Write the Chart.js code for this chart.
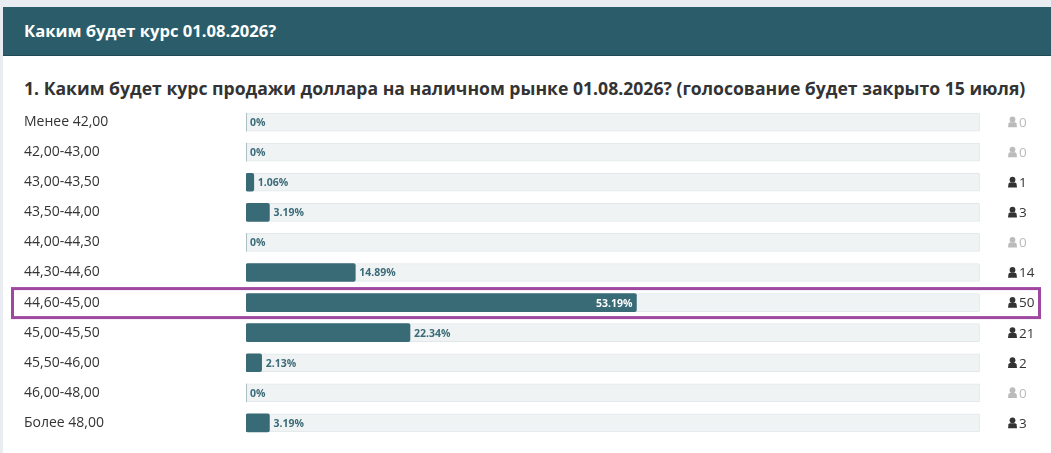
<!DOCTYPE html>
<html lang="ru">
<head>
<meta charset="utf-8">
<script src="https://cdn.jsdelivr.net/npm/chart.js@4"></script>
<style>
  html, body { margin: 0; padding: 0; }
  body { width: 1051px; height: 453px; background: #e9edf1; overflow: hidden; position: relative; font-family: "Open Sans", sans-serif; }
  .panel { position: absolute; left: 3px; top: 7px; right: 0; bottom: 0; background: #fff; }
  .head { position: absolute; left: 3px; top: 7px; right: 0; height: 48px; background: #2a5d69; border-bottom: 1px solid #1f4a54;
          color: #fff; font-weight: 700; font-size: 16.6px; line-height: 48px; padding-left: 21px; }
  .question { position: absolute; left: 24px; top: 76px; font-weight: 700; font-size: 17.6px; color: #333; white-space: nowrap; }
  .box { position: absolute; left: 0; top: 107px; width: 1051px; height: 331px; }
</style>
</head>
<body>
<div class="panel"></div>
<div class="head">Каким будет курс 01.08.2026?</div>
<div class="question">1. Каким будет курс продажи доллара на наличном рынке 01.08.2026? (голосование будет закрыто 15 июля)</div>
<div class="box"><canvas id="pollChart"></canvas></div>
<script>
var options = ['Менее 42,00', '42,00-43,00', '43,00-43,50', '43,50-44,00', '44,00-44,30', '44,30-44,60',
               '44,60-45,00', '45,00-45,50', '45,50-46,00', '46,00-48,00', 'Более 48,00'];
var percents = [0, 0, 1.06, 3.19, 0, 14.89, 53.19, 22.34, 2.13, 0, 3.19];
var votes = [0, 0, 1, 3, 0, 14, 50, 21, 2, 0, 3];
var track = options.map(function () { return 100; });
var highlightIndex = votes.indexOf(Math.max.apply(null, votes));

function drawPerson(ctx, x, y, color) {
    ctx.save();
    ctx.fillStyle = color;
    ctx.beginPath();
    ctx.arc(x + 4.5, y - 2.6, 2.9, 0, Math.PI * 2);
    ctx.fill();
    ctx.beginPath();
    ctx.moveTo(x, y + 5.2);
    ctx.lineTo(x + 0.5, y + 1.4);
    ctx.quadraticCurveTo(x + 0.9, y + 0.2, x + 2.4, y + 0.2);
    ctx.lineTo(x + 6.6, y + 0.2);
    ctx.quadraticCurveTo(x + 8.1, y + 0.2, x + 8.5, y + 1.4);
    ctx.lineTo(x + 9, y + 5.2);
    ctx.closePath();
    ctx.fill();
    ctx.restore();
}

var pollLabels = {
    id: 'pollLabels',
    afterDatasetsDraw: function (chart) {
        var ctx = chart.ctx;
        var xs = chart.scales.x, ys = chart.scales.y;
        ctx.save();
        ctx.textBaseline = 'middle';
        for (var i = 0; i < options.length; i++) {
            var y = ys.getPixelForValue(i);
            var end = xs.getPixelForValue(percents[i]);
            var txt = percents[i] === 0 ? '0%' : percents[i].toFixed(2) + '%';
            ctx.font = '700 10.5px "Open Sans", sans-serif';
            if (percents[i] > 30) {
                ctx.fillStyle = '#ffffff';
                ctx.textAlign = 'right';
                ctx.fillText(txt, end - 4, y + 1);
            } else {
                ctx.fillStyle = '#3b6b78';
                ctx.textAlign = 'left';
                ctx.fillText(txt, end + 4, y + 1);
            }
            var col = votes[i] === 0 ? '#bbbbbb' : '#333333';
            var cx = chart.chartArea.right + 28;
            drawPerson(ctx, cx, y, col);
            ctx.font = '13.5px "Open Sans", sans-serif';
            ctx.fillStyle = col;
            ctx.textAlign = 'left';
            ctx.fillText(String(votes[i]), cx + 11, y + 1);
        }
        var hy = ys.getPixelForValue(highlightIndex);
        ctx.strokeStyle = '#9e48a0';
        ctx.lineWidth = 3;
        ctx.strokeRect(12.5, hy - 14, 1027, 29);
        ctx.restore();
    }
};

new Chart(document.getElementById('pollChart'), {
    type: 'bar',
    data: {
        labels: options,
        datasets: [
            {
                data: percents,
                backgroundColor: '#396b77',
                borderRadius: 2,
                borderSkipped: false,
                barThickness: 18,
                grouped: false,
                order: 1
            },
            {
                data: track,
                backgroundColor: '#eff3f4',
                borderColor: '#e2e8ea',
                borderWidth: 1,
                borderRadius: 2,
                borderSkipped: false,
                barThickness: 18,
                grouped: false,
                order: 2
            }
        ]
    },
    options: {
        indexAxis: 'y',
        responsive: true,
        maintainAspectRatio: false,
        animation: false,
        layout: { padding: { left: 24, right: 71, top: 0, bottom: 0 } },
        plugins: {
            legend: { display: false },
            tooltip: { enabled: false }
        },
        scales: {
            x: { display: false, min: 0, max: 100 },
            y: {
                grid: { display: false },
                border: { display: false },
                afterFit: function (s) {
                    s.width = 222;
                    s.paddingTop = 0;
                    s.paddingBottom = 0;
                },
                ticks: {
                    crossAlign: 'far',
                    color: '#333',
                    font: { family: '"Open Sans", sans-serif', size: 14 }
                }
            }
        }
    },
    plugins: [pollLabels]
});
</script>
</body>
</html>
